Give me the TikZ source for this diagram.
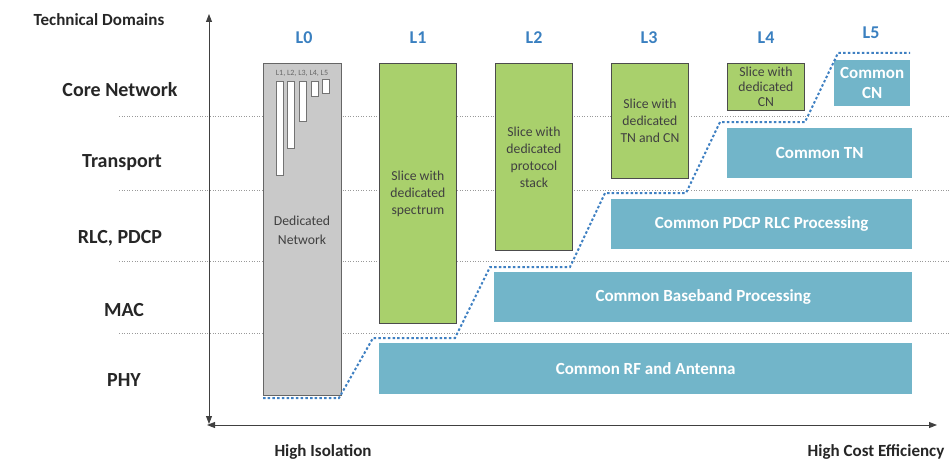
\documentclass[tikz,border=0pt]{standalone}
\usepackage{fontspec}
\setmainfont{Carlito}
\usetikzlibrary{arrows.meta}
\definecolor{gfill}{HTML}{A9D06C}
\definecolor{bfill}{HTML}{72B5C9}
\definecolor{lblue}{HTML}{3A80C0}
\definecolor{dline}{HTML}{3F80C2}
\definecolor{graybox}{HTML}{C9C9C9}
\begin{document}
\begin{tikzpicture}[x=1pt,y=-1pt,
  rowlbl/.style={font=\fontsize{20}{22}\selectfont\bfseries, text=black!85},
  axlbl/.style={font=\fontsize{17}{19}\selectfont\bfseries, text=black!85},
  lvl/.style={font=\fontsize{18}{20}\selectfont\bfseries, text=lblue},
  greenbox/.style={draw=black!70, line width=0.9pt, fill=gfill, anchor=north west, inner sep=0pt},
  gtext/.style={align=center, text=black!75, font=\fontsize{13.7}{17}\selectfont},
  bluebox/.style={fill=bfill, anchor=north west, inner sep=0pt},
  btext/.style={align=center, text=white, font=\fontsize{17}{20}\selectfont\bfseries},
  grid/.style={gray!80, line width=0.6pt, dotted},
  axis/.style={line width=0.9pt, black!75, -{Triangle[length=8pt,width=6pt]}},
  bar/.style={draw=black!55, fill=white, line width=0.5pt}
]
\useasboundingbox (0,0) rectangle (949,460);
% grid lines
\foreach \yy in {116,190,261,333} \draw[grid] (119,\yy) -- (949,\yy);
% axes
\coordinate (vt) at (209,14);
\coordinate (vb) at (209,424);
\coordinate (hl) at (207,425);
\coordinate (hr) at (937,425);
\coordinate (vm) at (209,200);
\coordinate (hm) at (600,425);
\draw[axis] (vm) -- (vt);
\draw[axis] (vm) -- (vb);
\draw[axis] (hm) -- (hr);
\draw[axis] (hm) -- (hl);
% labels
\node[axlbl] (td) at (99,20) {Technical Domains};
\node[rowlbl] (r1) at (120,90) {Core Network};
\node[rowlbl] (r2) at (122,163) {Transport};
\node[rowlbl] (r3) at (120,238) {RLC, PDCP};
\node[rowlbl] (r4) at (124,310) {MAC};
\node[rowlbl] (r5) at (124,380) {PHY};
\node[lvl] (h0) at (304,38) {L0};
\node[lvl] (h1) at (418,38) {L1};
\node[lvl] (h2) at (534,38) {L2};
\node[lvl] (h3) at (649,38) {L3};
\node[lvl] (h4) at (766,38) {L4};
\node[lvl] (h5) at (871,33) {L5};
\node[axlbl] (hi) at (323,452) {High Isolation};
\node[axlbl] (hc) at (876,452) {High Cost Efficiency};
% L0 box
\node[draw=black!60, line width=0.9pt, fill=graybox, anchor=north west, minimum width=78pt, minimum height=332pt, inner sep=0pt] (b0) at (263,63) {};
\node[gtext, font=\fontsize{13.7}{19}\selectfont] (b0t) at (302,230) {Dedicated\\Network};
\node[font=\fontsize{8}{9}\selectfont, text=black!60] (b0l) at (302,73) {L1, L2, L3, L4, L5};
\draw[bar] (276,81) rectangle (283,175);
\draw[bar] (287,81) rectangle (294,148);
\draw[bar] (299,81) rectangle (306,121);
\draw[bar] (311,81) rectangle (318,96);
\draw[bar] (322,79) rectangle (329,93);
% green boxes
\node[greenbox, minimum width=77pt, minimum height=260pt] (g1) at (379,63) {};
\node[gtext] (g1t) at (g1.center) {Slice with\\dedicated\\spectrum};
\node[greenbox, minimum width=77pt, minimum height=187pt] (g2) at (495,63) {};
\node[gtext] (g2t) at (g2.center) {Slice with\\dedicated\\protocol\\stack};
\node[greenbox, minimum width=77pt, minimum height=115pt] (g3) at (611,63) {};
\node[gtext] (g3t) at (g3.center) {Slice with\\dedicated\\TN and CN};
\node[greenbox, minimum width=77pt, minimum height=47pt] (g4) at (727,63) {};
\node[gtext, font=\fontsize{13.7}{15}\selectfont] (g4t) at (g4.center) {Slice with\\dedicated\\CN};
% blue boxes
\node[bluebox, minimum width=76pt, minimum height=46pt] (c5) at (834,60) {};
\node[btext] (c5t) at (c5.center) {Common\\CN};
\node[bluebox, minimum width=185pt, minimum height=50pt] (c4) at (727,128) {};
\node[btext] (c4t) at (c4.center) {Common TN};
\node[bluebox, minimum width=301pt, minimum height=50pt] (c3) at (611,199) {};
\node[btext] (c3t) at (c3.center) {Common PDCP RLC Processing};
\node[bluebox, minimum width=418pt, minimum height=50pt] (c2) at (494,272) {};
\node[btext] (c2t) at (c2.center) {Common Baseband Processing};
\node[bluebox, minimum width=533pt, minimum height=51pt] (c1) at (379,343) {};
\node[btext] (c1t) at (c1.center) {Common RF and Antenna};
% dotted step line
\draw[dline, line width=2pt, dash pattern=on 2.5pt off 2.2pt]
  (263,398) -- (339,398) -- (373,338) -- (455,338) -- (490,267) -- (570,267)
  -- (605,193) -- (686,193) -- (720,122) -- (805,122) -- (838,53) -- (910,53);
\end{tikzpicture}
\end{document}
